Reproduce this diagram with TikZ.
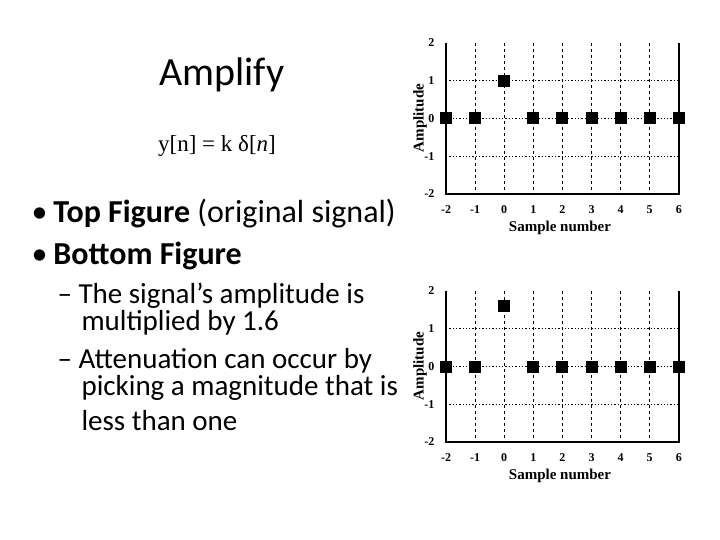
\documentclass[tikz,border=0pt]{standalone}
\usepackage{fontspec}
\setmainfont{Carlito}
\newfontfamily\tms{Liberation Serif}
\begin{document}
\begin{tikzpicture}[x=1pt,y=-1pt,
  tick/.style={font=\tms\bfseries\fontsize{12}{12}\selectfont},
  mk/.style={fill=black,minimum size=12pt,inner sep=0pt},
  vg/.style={dashed,line width=0.8pt},
  hg/.style={dotted,line width=1.3pt}]
\useasboundingbox[fill=white] (0,0) rectangle (720,540);
\node (title) at (222,75) {\fontsize{40}{40}\selectfont Amplify};
\node (eq) at (217,146) {\tms\fontsize{23}{23}\selectfont y[n] = k δ[\textit{n}]};
\node[anchor=west] (b1) at (28,214) {\fontsize{32}{32}\selectfont •\hspace{6pt}\textbf{Top Figure} (original signal)};
\node[anchor=west] (b2) at (28,256) {\fontsize{32}{32}\selectfont •\hspace{6pt}\textbf{Bottom Figure}};
\begin{scope}[font=\fontsize{29}{29}\selectfont]
\node[anchor=west] (s1) at (54,296) {– The signal’s amplitude is};
\node[anchor=west] (s1b) at (78,323) {multiplied by 1.6};
\node[anchor=west] (s2) at (54,361) {– Attenuation can occur by};
\node[anchor=west] (s2b) at (78,388) {picking a magnitude that is};
\node[anchor=west] (s2c) at (78,421) {less than one};
\end{scope}
\foreach \yo/\amp in {43/1,291/1.6}{
\begin{scope}[shift={(0,\yo)}]
 \foreach \i in {0,...,8} \draw[vg] (446+29.1*\i,0) -- (446+29.1*\i,151);
 \foreach \j in {1,2,3} \draw[hg] (446,37.75*\j) -- (679,37.75*\j);
 \draw[line width=1.5pt] (446,0) -- (446,151) -- (679,151) -- (679,0);
 \foreach \i [count=\k from 0] in {-2,...,6} \node[tick] at (446+29.1*\k,167) {\i};
 \foreach \v [count=\k from 0] in {2,1,0,-1,-2} \node[tick,anchor=east] at (438,37.75*\k) {\v};
 \node[rotate=90,font=\tms\bfseries\fontsize{15}{15}\selectfont] at (420,75) {Amplitude};
 \node[font=\tms\bfseries\fontsize{15}{15}\selectfont] at (560,185) {Sample number};
 \foreach \k in {0,1,3,4,5,6,7,8} \node[mk] at (446+29.1*\k,75.5) {};
 \node[mk] at (504.2,75.5-37.75*\amp) {};
\end{scope}}
\end{tikzpicture}
\end{document}
